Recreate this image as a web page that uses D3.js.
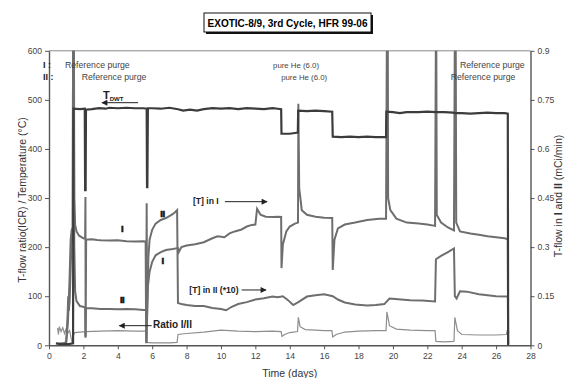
<!DOCTYPE html>
<html>
<head>
<meta charset="utf-8">
<script src="https://cdn.jsdelivr.net/npm/d3@7"></script>
<style>
  html, body { margin: 0; padding: 0; background: #fff; }
  svg { display: block; font-family: "Liberation Sans", Arial, sans-serif; }
</style>
</head>
<body>
<svg id="chart" width="566" height="378"></svg>
<script>
// [days, °C]
const tdwt = [
  [0.4, 4], [0.8, 2], [1.2, 3], [1.40, 4], [1.42, 482], [1.8, 481], [2.08, 482],
  [2.1, 316], [2.13, 316], [2.15, 480], [2.5, 481], [2.9, 483], [3.3, 482], [3.5, 484],
  [4.0, 483], [4.5, 484], [5.0, 483], [5.5, 483], [5.68, 482], [5.7, 322], [5.72, 322],
  [5.75, 483], [6.0, 483], [6.5, 482], [7.0, 484], [7.5, 481], [7.8, 478], [8.2, 480],
  [8.6, 478], [9.0, 481], [9.5, 483], [10.0, 482], [10.5, 483], [11.0, 481], [11.5, 483],
  [12.0, 482], [12.5, 481], [13.0, 483], [13.3, 482], [13.5, 481], [13.52, 431],
  [14.0, 431], [14.4, 433], [14.47, 433], [14.49, 478], [15.0, 477], [15.5, 478],
  [16.0, 477], [16.47, 476], [16.5, 425], [17.0, 424], [17.5, 425], [18.0, 424],
  [18.5, 425], [19.0, 424], [19.6, 424], [19.62, 476], [20.0, 475], [20.4, 473],
  [20.8, 475], [21.5, 475], [22.0, 476], [22.5, 475], [23.0, 475], [23.5, 474],
  [23.6, 473], [24.0, 473], [24.5, 472], [25.0, 473], [25.5, 474], [26.0, 473],
  [26.5, 473], [26.68, 472], [26.7, 0]
];

// [days, mCi/min]
const flowI = [
  [0.5, 0.005], [0.9, 0.006], [1.0, 0.012], [1.1, 0.068], [1.2, 0.21], [1.26, 0.323],
  [1.32, 0.353], [1.38, 0.36], [1.40, 0.975], [1.45, 0.975], [1.47, 0.45], [1.52, 0.368],
  [1.6, 0.348], [1.75, 0.335], [2.0, 0.327], [2.1, 0.326], [2.12, 0.453], [2.13, 0.027],
  [2.16, 0.323], [2.5, 0.324], [2.8, 0.322], [3.0, 0.321], [3.5, 0.32], [4.0, 0.321],
  [4.5, 0.318], [5.0, 0.317], [5.5, 0.318], [5.62, 0.317], [5.65, 0.006], [5.68, 0.434],
  [5.7, 0.09], [5.75, 0.18], [5.85, 0.225], [6.0, 0.255], [6.2, 0.275], [6.5, 0.285],
  [6.8, 0.291], [7.2, 0.294], [7.5, 0.297], [7.55, 0.285], [7.7, 0.30], [8.0, 0.305],
  [8.5, 0.309], [9.0, 0.315], [9.5, 0.327], [9.8, 0.333], [10.2, 0.33], [10.5, 0.342],
  [10.8, 0.348], [11.2, 0.354], [11.5, 0.363], [11.8, 0.368], [12.0, 0.369], [12.1, 0.417],
  [12.3, 0.399], [12.6, 0.393], [13.0, 0.392], [13.3, 0.393], [13.5, 0.392], [13.52, 0.236],
  [13.6, 0.308], [13.8, 0.348], [14.0, 0.363], [14.3, 0.372], [14.48, 0.375], [14.5, 0.738],
  [14.55, 0.48], [14.7, 0.413], [15.0, 0.399], [15.5, 0.393], [16.0, 0.39], [16.47, 0.389],
  [16.5, 0.23], [16.6, 0.323], [16.8, 0.357], [17.2, 0.369], [17.8, 0.375], [18.5, 0.383],
  [19.2, 0.387], [19.6, 0.387], [19.65, 0.975], [19.7, 0.975], [19.72, 0.45], [19.85, 0.413],
  [20.2, 0.387], [20.8, 0.375], [21.5, 0.372], [22.0, 0.369], [22.45, 0.365], [22.5, 0.975],
  [22.52, 0.975], [22.55, 0.398], [22.8, 0.375], [23.2, 0.36], [23.55, 0.351], [23.6, 0.975],
  [23.65, 0.975], [23.68, 0.375], [23.9, 0.348], [24.5, 0.342], [25.0, 0.338], [25.5, 0.333],
  [26.0, 0.33], [26.5, 0.327], [26.68, 0.324], [26.7, 0.003]
];

// [days, mCi/min x10]
const flowII = [
  [0.6, 0.003], [1.0, 0.008], [1.08, 0.09], [1.12, 0.15], [1.15, 0.105], [1.2, 0.135],
  [1.3, 0.30], [1.38, 0.345], [1.40, 0.975], [1.44, 0.975], [1.47, 0.30], [1.52, 0.165],
  [1.6, 0.135], [1.8, 0.12], [2.1, 0.116], [2.12, 0.023], [2.15, 0.114], [2.5, 0.113],
  [3.0, 0.111], [3.5, 0.111], [4.0, 0.11], [4.5, 0.111], [5.0, 0.11], [5.5, 0.108],
  [5.65, 0.108], [5.68, 0.008], [5.72, 0.135], [5.78, 0.27], [5.85, 0.323], [6.0, 0.353],
  [6.2, 0.372], [6.5, 0.383], [6.8, 0.389], [7.1, 0.398], [7.3, 0.405], [7.45, 0.413],
  [7.5, 0.129], [7.7, 0.126], [8.0, 0.123], [8.5, 0.12], [9.0, 0.12], [9.5, 0.114],
  [10.0, 0.111], [10.3, 0.107], [10.6, 0.117], [11.0, 0.126], [11.5, 0.132], [12.0, 0.14],
  [12.5, 0.144], [13.0, 0.149], [13.3, 0.147], [13.6, 0.15], [13.9, 0.138], [14.2, 0.123],
  [14.5, 0.132], [15.0, 0.149], [15.5, 0.153], [16.0, 0.156], [16.5, 0.15], [16.8, 0.14],
  [17.2, 0.131], [17.8, 0.125], [18.5, 0.122], [19.0, 0.123], [19.5, 0.126], [19.8, 0.143],
  [20.3, 0.141], [21.0, 0.138], [21.7, 0.137], [22.45, 0.134], [22.5, 0.263], [22.8, 0.273],
  [23.2, 0.285], [23.55, 0.296], [23.6, 0.15], [23.7, 0.143], [23.9, 0.165], [24.3, 0.164],
  [25.0, 0.156], [25.5, 0.153], [26.0, 0.15], [26.68, 0.149], [26.7, 0.003]
];

// [days, ratio]
const ratio = [
  [0.5, 35], [0.55, 22], [0.6, 38], [0.7, 28], [0.8, 36], [0.9, 24], [1.0, 34], [1.1, 25],
  [1.2, 30], [1.3, 12], [1.36, 4], [1.42, 20], [1.5, 26], [1.8, 27], [2.1, 28], [2.12, 18],
  [2.15, 28], [3.0, 29], [4.0, 30], [5.0, 29], [5.65, 29], [5.68, 6], [6.0, 5], [7.0, 5],
  [7.45, 6], [7.5, 22], [8.0, 24], [9.0, 27], [10.0, 31], [11.0, 29], [12.0, 28], [13.0, 29],
  [13.5, 28], [13.55, 18], [13.7, 22], [14.0, 26], [14.45, 28], [14.5, 57], [14.6, 38],
  [14.9, 32], [15.5, 31], [16.0, 30], [16.45, 30], [16.5, 17], [16.7, 22], [17.2, 27],
  [18.0, 29], [19.0, 30], [19.6, 30], [19.65, 68], [19.8, 40], [20.2, 33], [21.0, 31],
  [22.0, 30], [22.45, 30], [22.5, 8], [23.0, 7], [23.55, 8], [23.6, 57], [23.75, 30],
  [24.0, 22], [25.0, 21], [26.0, 21], [26.6, 22], [26.65, 31], [26.7, 25], [26.75, 28]
];

const xTicks = d3.range(0, 29, 2);
const leftTicks = d3.range(0, 601, 100);
const rightTicks = [0, 0.15, 0.3, 0.45, 0.6, 0.75, 0.9];

const purgeRowI = [[0.93, 'Reference purge'], [13.03, 'pure He (6.0)'], [23.9, 'Reference purge']];
const purgeRowII = [[1.9, 'Reference purge'], [13.5, 'pure He (6.0)'], [23.36, 'Reference purge']];

const svg = d3.select('#chart');
const margin = {top: 50.8, right: 35.5, bottom: 32.7, left: 49};
const width = 566, height = 378;

const x = d3.scaleLinear().domain([0, 28]).range([margin.left, width - margin.right]);
const yL = d3.scaleLinear().domain([0, 600]).range([height - margin.bottom, margin.top]);
const yR = d3.scaleLinear().domain([0, 0.9]).range([height - margin.bottom, margin.top]);

const defs = svg.append('defs');
defs.append('clipPath').attr('id', 'plot-clip')
  .append('rect')
  .attr('x', x(0)).attr('y', yL(600))
  .attr('width', x(28) - x(0)).attr('height', yL(0) - yL(600));
defs.append('marker')
  .attr('id', 'arrow')
  .attr('viewBox', '0 0 10 10')
  .attr('refX', 9).attr('refY', 5)
  .attr('markerWidth', 7).attr('markerHeight', 6)
  .attr('markerUnits', 'userSpaceOnUse')
  .attr('orient', 'auto')
  .append('path').attr('d', 'M0,0L10,5L0,10Z').attr('fill', '#222');

// title box
const titleG = svg.append('g');
titleG.append('rect').attr('x', 206).attr('y', 15).attr('width', 167).attr('height', 19).attr('fill', '#111');
titleG.append('rect').attr('x', 204).attr('y', 13).attr('width', 167).attr('height', 19)
  .attr('fill', '#fff').attr('stroke', '#111').attr('stroke-width', 1);
titleG.append('text').attr('x', 287.5).attr('y', 27)
  .attr('text-anchor', 'middle').attr('font-size', 11.5).attr('font-weight', 'bold')
  .attr('textLength', 160).attr('lengthAdjust', 'spacingAndGlyphs')
  .text('EXOTIC-8/9, 3rd Cycle, HFR 99-06');

// top frame line
svg.append('line')
  .attr('x1', x(0)).attr('x2', x(28)).attr('y1', yL(600)).attr('y2', yL(600))
  .attr('stroke', '#8a8a8a').attr('stroke-width', 1);

// axes
const styleAxis = (g) => {
  g.selectAll('.domain').attr('stroke', '#555').attr('stroke-width', 1.4);
  g.selectAll('.tick line').attr('stroke', '#555').attr('stroke-width', 1);
  g.selectAll('.tick text').attr('fill', '#444').attr('font-size', 8.6)
    .attr('font-family', '"Liberation Sans", Arial, sans-serif');
};

svg.append('g')
  .attr('transform', `translate(${x(0)},0)`)
  .call(d3.axisLeft(yL).tickValues(leftTicks).tickSize(4).tickSizeOuter(0).tickPadding(3))
  .call(styleAxis);

svg.append('g')
  .attr('transform', `translate(${x(28)},0)`)
  .call(d3.axisRight(yR).tickValues(rightTicks).tickSize(4).tickSizeOuter(0).tickPadding(3)
    .tickFormat(d3.format('~g')))
  .call(styleAxis);

svg.append('g')
  .attr('transform', `translate(0,${yL(0)})`)
  .call(d3.axisBottom(x).tickValues(xTicks).tickSize(4).tickSizeOuter(0).tickPadding(4))
  .call(styleAxis);

// axis titles
svg.append('text')
  .attr('transform', `translate(26,${(yL(0) + yL(600)) / 2 + 2}) rotate(-90)`)
  .attr('text-anchor', 'middle').attr('font-size', 10.5).attr('fill', '#333')
  .text('T-flow ratio(ICR) / Temperature (°C)');

const rightTitle = svg.append('text')
  .attr('transform', `translate(562,${(yL(0) + yL(600)) / 2 - 2}) rotate(-90)`)
  .attr('text-anchor', 'middle').attr('font-size', 10.5).attr('fill', '#333');
rightTitle.append('tspan').text('T-flow in ');
rightTitle.append('tspan').attr('font-weight', 'bold').text('I');
rightTitle.append('tspan').text(' and ');
rightTitle.append('tspan').attr('font-weight', 'bold').text('II');
rightTitle.append('tspan').text(' (mCi/min)');

svg.append('text')
  .attr('x', (x(0) + x(28)) / 2).attr('y', 377)
  .attr('text-anchor', 'middle').attr('font-size', 10.5).attr('fill', '#333')
  .text('Time (days)');

// series
const plot = svg.append('g').attr('clip-path', 'url(#plot-clip)');
const lineL = d3.line().x(d => x(d[0])).y(d => yL(d[1]));
const lineR = d3.line().x(d => x(d[0])).y(d => yR(d[1]));

plot.append('path').datum(ratio).attr('d', lineL)
  .attr('fill', 'none').attr('stroke', '#8e8e8e').attr('stroke-width', 1.2);
plot.append('path').datum(flowII).attr('d', lineR)
  .attr('fill', 'none').attr('stroke', '#6e6e6e').attr('stroke-width', 2);
plot.append('path').datum(flowI).attr('d', lineR)
  .attr('fill', 'none').attr('stroke', '#6e6e6e').attr('stroke-width', 2);
plot.append('path').datum(tdwt).attr('d', lineL)
  .attr('fill', 'none').attr('stroke', '#3c3c3c').attr('stroke-width', 2.2);

// purge / gas annotations
const rowLabel = (yPix, txt) => svg.append('text')
  .attr('x', x(0) - 6).attr('y', yPix)
  .attr('font-size', 9).attr('font-weight', 'bold').attr('fill', '#222').text(txt);
rowLabel(yL(564), 'I :');
rowLabel(yL(539.5), 'II :');

svg.selectAll('.purge-i').data(purgeRowI).join('text')
  .attr('class', 'purge-i')
  .attr('x', d => x(d[0])).attr('y', yL(564))
  .attr('font-size', d => d[1] === 'pure He (6.0)' ? 7.8 : 8.7).attr('fill', '#444')
  .text(d => d[1]);
svg.selectAll('.purge-ii').data(purgeRowII).join('text')
  .attr('class', 'purge-ii')
  .attr('x', d => x(d[0])).attr('y', yL(539.5))
  .attr('font-size', d => d[1] === 'pure He (6.0)' ? 7.8 : 8.7).attr('fill', '#444')
  .text(d => d[1]);

// series labels and arrows
const arrow = (t1, t2, v) => svg.append('line')
  .attr('x1', x(t1)).attr('x2', x(t2)).attr('y1', yL(v)).attr('y2', yL(v))
  .attr('stroke', '#222').attr('stroke-width', 1).attr('marker-end', 'url(#arrow)');

const tLabel = svg.append('text').attr('x', x(3.14)).attr('y', yL(502))
  .attr('font-weight', 'bold').attr('fill', '#222').attr('font-size', 11);
tLabel.append('tspan').text('T');
tLabel.append('tspan').attr('font-size', 6).attr('dy', 2).text('DWT');
arrow(5.18, 3.08, 494.3);

svg.append('text').attr('x', x(8.37)).attr('y', yL(287))
  .attr('font-weight', 'bold').attr('font-size', 8.6).attr('fill', '#222').text('[T] in I');
arrow(10.23, 12.68, 292.6);

svg.append('text').attr('x', x(8.16)).attr('y', yL(106.6))
  .attr('font-weight', 'bold').attr('font-size', 8.6).attr('fill', '#222').text('[T] in II (*10)');
arrow(11.2, 12.62, 112.7);

svg.append('text').attr('x', x(6.05)).attr('y', yL(35.2))
  .attr('font-weight', 'bold').attr('font-size', 10).attr('fill', '#222').text('Ratio I/II');
arrow(5.97, 4.09, 40);

const curveTags = [[4.25, 230, 'I'], [4.25, 86, 'II'], [6.6, 262, 'II'], [6.6, 165, 'I']];
svg.selectAll('.curve-tag').data(curveTags).join('text')
  .attr('class', 'curve-tag')
  .attr('x', d => x(d[0])).attr('y', d => yL(d[1]))
  .attr('text-anchor', 'middle')
  .attr('font-weight', 'bold').attr('font-size', 9.5)
  .attr('fill', '#111').attr('stroke', '#111').attr('stroke-width', 0.6)
  .attr('letter-spacing', -0.5)
  .text(d => d[2]);
</script>
</body>
</html>
